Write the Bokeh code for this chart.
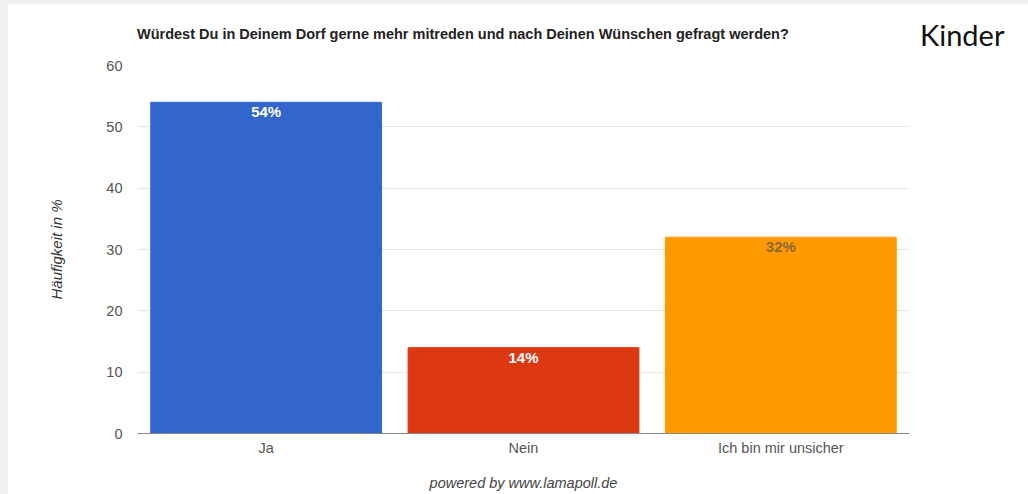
from bokeh.plotting import figure
from bokeh.models import ColumnDataSource, FixedTicker, Div
from bokeh.layouts import column, row
from bokeh.embed import file_html
from bokeh.resources import INLINE
from bokeh.core.properties import value

categories = ["Ja", "Nein", "Ich bin mir unsicher"]
percent = [54, 14, 32]
bar_colors = ["#3366cc", "#dc3912", "#ff9900"]
value_labels = ["54%", "14%", "32%"]
label_colors = ["#ffffff", "#ffffff", "#8a6a3a"]
y_ticks = [0, 10, 20, 30, 40, 50, 60]

title_text = "Würdest Du in Deinem Dorf gerne mehr mitreden und nach Deinen Wünschen gefragt werden?"
side_text = "Kinder"

src = ColumnDataSource(dict(cat=categories, val=percent, color=bar_colors,
                            lab=value_labels, lcol=label_colors))

p = figure(x_range=categories, y_range=(0, 60), width=912, height=450,
           output_backend="svg", toolbar_location=None,
           min_border_left=129, min_border_right=11, min_border_top=21, min_border_bottom=61)
p.outline_line_color = None
p.background_fill_color = "white"
p.border_fill_color = "white"

p.vbar(x="cat", top="val", width=0.897, color="color", source=src)
p.text(x="cat", y="val", text="lab", text_color="lcol", source=src,
       text_align="center", text_baseline="top", y_offset=1,
       text_font=value("Liberation Sans"), text_font_size="15px", text_font_style="bold")

p.yaxis.ticker = FixedTicker(ticks=y_ticks)
p.yaxis.axis_line_color = None
p.yaxis.major_tick_line_color = None
p.yaxis.minor_tick_line_color = None
p.yaxis.major_tick_out = 0
p.yaxis.major_tick_in = 0
p.yaxis.major_label_text_font = "Liberation Sans"
p.yaxis.major_label_text_font_size = "14.5px"
p.yaxis.major_label_text_color = "#555555"
p.yaxis.major_label_standoff = 15
p.yaxis.axis_label = "Häufigkeit in %"
p.yaxis.axis_label_text_font = "Liberation Sans"
p.yaxis.axis_label_text_font_size = "15px"
p.yaxis.axis_label_text_font_style = "italic"
p.yaxis.axis_label_text_color = "#333333"
p.yaxis.axis_label_standoff = 38

p.xaxis.axis_line_color = "#888888"
p.xaxis.major_tick_line_color = None
p.xaxis.minor_tick_line_color = None
p.xaxis.major_tick_out = 0
p.xaxis.major_tick_in = 0
p.xaxis.major_label_text_font = "Liberation Sans"
p.xaxis.major_label_text_font_size = "14.5px"
p.xaxis.major_label_text_color = "#555555"
p.xaxis.major_label_standoff = 6
p.xaxis.axis_label = "powered by www.lamapoll.de"
p.xaxis.axis_label_text_font = "Liberation Sans"
p.xaxis.axis_label_text_font_size = "14.5px"
p.xaxis.axis_label_text_font_style = "italic"
p.xaxis.axis_label_text_color = "#444444"
p.xaxis.axis_label_standoff = 16

p.xgrid.grid_line_color = None
p.ygrid.grid_line_color = "#e6e6e6"

title_div = Div(text=title_text, width=912, height=40,
                styles={"font-family": "Liberation Sans", "font-size": "14.5px",
                        "font-weight": "bold", "color": "#222222", "line-height": "17px",
                        "padding-top": "22px", "padding-left": "129px", "margin": "0",
                        "box-sizing": "border-box"})

kinder = Div(text=side_text, width=108, height=490,
             styles={"font-family": "Lato", "font-size": "29px", "color": "#111111",
                     "line-height": "29px", "padding-top": "16px", "margin": "0"})

page = column(row(column(title_div, p, spacing=0), kinder, spacing=0),
              styles={"background-color": "white",
                      "border-left": "8px solid #f1f1f1", "border-top": "4px solid #f1f1f1"})

open("out.html", "w").write(file_html(page, INLINE))
